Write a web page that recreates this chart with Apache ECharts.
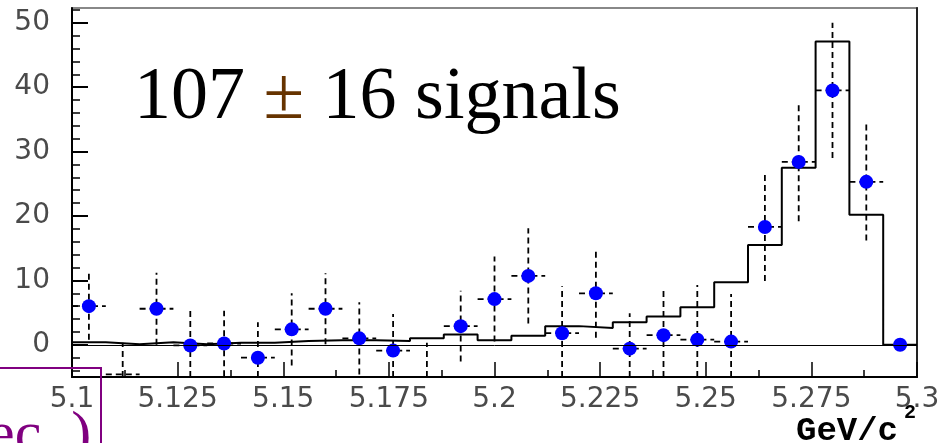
<!DOCTYPE html>
<html>
<head>
<meta charset="utf-8">
<script src="https://cdn.jsdelivr.net/npm/echarts@6/dist/echarts.min.js"></script>
<style>
  html, body { margin: 0; padding: 0; background: #fff; }
  #chart { width: 948px; height: 443px; }
</style>
</head>
<body>
<div id="chart"></div>
<script>
// bin centres (GeV/c^2), bin width 0.008
const binCenters = [5.104, 5.112, 5.120, 5.128, 5.136, 5.144, 5.152, 5.160, 5.168, 5.176,
  5.184, 5.192, 5.200, 5.208, 5.216, 5.224, 5.232, 5.240, 5.248, 5.256,
  5.264, 5.272, 5.280, 5.288, 5.296]
const binWidth = 0.008

// data points (blue) and their errors
const dataValues = [6.0, -4.6, 5.6, -0.1, 0.2, -2.0, 2.4, 5.6, 1.0, -0.9,
  -6.0, 2.9, 7.1, 10.7, 1.8, 8.0, -0.6, 1.5, 0.8, 0.5,
  18.3, 28.4, 39.5, 25.3, 0.0]
const dataErrors = [5.2, 4.9, 5.6, 5.4, 5.1, 5.5, 5.6, 5.5, 5.6, 5.7,
  6.3, 5.5, 6.6, 7.4, 7.3, 6.9, 5.5, 7.0, 8.5, 7.4,
  8.4, 9.2, 10.5, 9.1, 0]

// histogram (black step line)
const fitValues = [0.4, 0.1, 0.4, 0.1, 0.3, 0.3, 0.6, 0.7, 0.7, 0.6,
  1.0, 1.6, 0.7, 1.4, 2.9, 2.6, 3.5, 4.4, 5.85, 9.7,
  15.5, 27.5, 47.1, 20.2, 0]

// axis ticks
const xTickLabels = [5.1, 5.125, 5.15, 5.175, 5.2, 5.225, 5.25, 5.275, 5.3]
const xMinorTicks = [5.1125, 5.1375, 5.1625, 5.1875, 5.2125, 5.2375, 5.2625, 5.2875]
const yTickLabels = [0, 10, 20, 30, 40, 50]
const yMinorTicks = [-4, -2, 2, 4, 6, 8, 12, 14, 16, 18, 22, 24, 26, 28, 32, 34, 36, 38, 42, 44, 46, 48, 52]

const xMin = 5.1, xMax = 5.3
const yMin = -5, yMax = 52.3

const labelFont = { fontSize: 28, fontFamily: 'DejaVu Sans', color: '#4a4a4a' }

// step line points: left edge of each bin, plus the right edge of the last one
const stepData = binCenters.map((c, i) => [c - binWidth / 2, fitValues[i]])
stepData.push([xMax, fitValues[fitValues.length - 1]])

// marker only when it sits fully inside the frame
const markerData = binCenters.map((c, i) => dataValues[i] - 0.9 > yMin ? [c, dataValues[i]] : null)
  .filter(Boolean)

const errData = binCenters.map((c, i) => [c, dataValues[i], dataErrors[i]])

function renderErr(params, api) {
  const x = api.value(0), y = api.value(1), e = api.value(2)
  const style = { stroke: '#000', lineWidth: 1.8, lineDash: [6, 4], fill: null }
  const children = []
  if (e > 0) {
    const p1 = api.coord([x, Math.max(y - e, yMin)])
    const p2 = api.coord([x, Math.min(y + e, yMax)])
    children.push({ type: 'line', shape: { x1: p1[0], y1: p1[1], x2: p2[0], y2: p2[1] }, style })
    if (y >= yMin) {
      const a = api.coord([x - binWidth / 2, y])
      const b = api.coord([x + binWidth / 2, y])
      children.push({ type: 'line', shape: { x1: a[0], y1: a[1], x2: b[0], y2: b[1] }, style })
    }
  }
  return { type: 'group', children }
}

const chart = echarts.init(document.getElementById('chart'))
chart.setOption({
  animation: false,
  grid: {
    left: 72, right: 31, top: 8, bottom: 66,
    show: true, borderColor: '#888', borderWidth: 2,
    outerBoundsMode: 'none'
  },
  xAxis: [
    {
      type: 'value', min: xMin, max: xMax, position: 'bottom',
      axisLine: { show: true, onZero: false, lineStyle: { color: '#000', width: 2 } },
      axisTick: { show: true, inside: true, length: 15, customValues: xTickLabels, lineStyle: { color: '#000', width: 1.5 } },
      axisLabel: { ...labelFont, margin: 9, customValues: xTickLabels, formatter: v => String(+v.toFixed(3)) },
      splitLine: { show: false }
    },
    {
      type: 'value', min: xMin, max: xMax, position: 'bottom',
      axisLine: { show: false, onZero: false },
      axisTick: { show: true, inside: true, length: 7, customValues: xMinorTicks, lineStyle: { color: '#000', width: 1.5 } },
      axisLabel: { show: false },
      splitLine: { show: false }
    }
  ],
  yAxis: [
    {
      type: 'value', min: yMin, max: yMax, position: 'left',
      axisLine: { show: true, onZero: false, lineStyle: { color: '#000', width: 2 } },
      axisTick: { show: true, inside: true, length: 16, customValues: yTickLabels, lineStyle: { color: '#000', width: 2 } },
      axisLabel: { ...labelFont, margin: 22, customValues: yTickLabels },
      splitLine: { show: false }
    },
    {
      type: 'value', min: yMin, max: yMax, position: 'left',
      axisLine: { show: false, onZero: false },
      axisTick: { show: true, inside: true, length: 8, customValues: yMinorTicks, lineStyle: { color: '#000', width: 1.5 } },
      axisLabel: { show: false },
      splitLine: { show: false }
    },
    {
      type: 'value', min: yMin, max: yMax, position: 'right',
      axisLine: { show: true, onZero: false, lineStyle: { color: '#222', width: 2 } },
      axisTick: { show: false }, axisLabel: { show: false }, splitLine: { show: false }
    }
  ],
  series: [
    {
      type: 'line', data: stepData, step: 'end', symbol: 'none', clip: true, z: 2,
      lineStyle: { color: '#000', width: 2 },
      markLine: {
        silent: true, symbol: 'none', label: { show: false },
        lineStyle: { color: '#000', width: 1, type: 'solid' },
        data: [{ yAxis: 0 }]
      }
    },
    { type: 'custom', data: errData, renderItem: renderErr, clip: true, z: 3 },
    {
      type: 'scatter', data: markerData, symbol: 'circle', symbolSize: 14, clip: true, z: 4,
      itemStyle: { color: '#0000ff', opacity: 1 }
    }
  ],
  graphic: [
    {
      type: 'text', left: 134, top: 62, z: 10,
      style: {
        text: '{a|107} {b|±} {a|16 signals}',
        font: '74px "Liberation Serif"',
        fill: '#000',
        rich: {
          a: { fontSize: 74, fontFamily: 'Liberation Serif', fill: '#000' },
          b: { fontSize: 74, fontFamily: 'Liberation Serif', fill: '#663300' }
        }
      }
    },
    {
      type: 'text', left: 796, top: 414, z: 10,
      style: { text: 'GeV/c', font: 'bold 34px "Liberation Mono"', fill: '#000' }
    },
    {
      type: 'text', left: 904, top: 403, z: 10,
      style: { text: '2', font: 'bold 20px "Liberation Mono"', fill: '#000' }
    },
    {
      type: 'rect', z: 10,
      shape: { x: -10, y: 368, width: 111, height: 100 },
      style: { fill: null, stroke: '#800080', lineWidth: 2 }
    },
    {
      type: 'text', left: -12, top: 406, z: 10,
      style: { text: 'ec. )', font: '60px "Liberation Serif"', fill: '#800080' }
    }
  ]
})
</script>
</body>
</html>
